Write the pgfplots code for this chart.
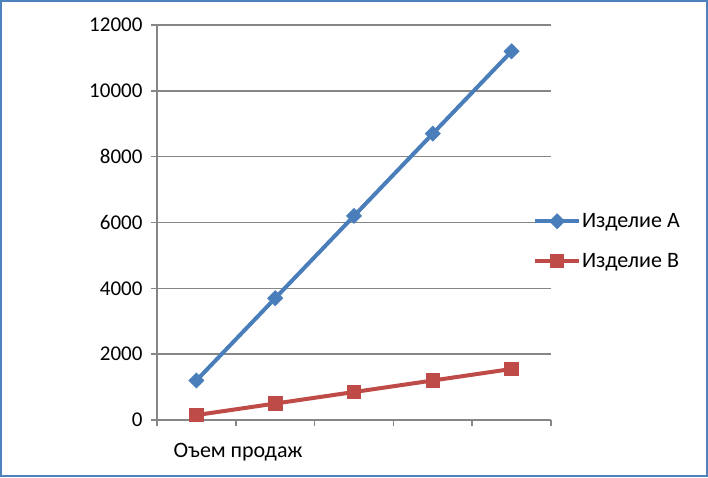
\documentclass[border=0pt]{standalone}
\usepackage{fontspec}
\setmainfont{Carlito}
\usepackage{pgfplots}
\pgfplotsset{compat=1.18}

\definecolor{seriesA}{HTML}{4A7EBB}
\definecolor{seriesB}{HTML}{BE4B48}
\definecolor{gridgray}{HTML}{868686}
\definecolor{framecol}{HTML}{4F81BD}

\begin{document}
\begin{tikzpicture}
\useasboundingbox (0,0) rectangle (708pt,477pt);
\begin{axis}[
    at={(157pt,57pt)}, anchor=south west,
    scale only axis,
    width=394pt, height=395pt,
    clip=false,
    xmin=-0.5, xmax=4.5,
    ymin=0, ymax=12000,
    xtick={-0.5,0.5,1.5,2.5,3.5,4.5},
    xticklabels={},
    ytick={0,2000,4000,6000,8000,10000,12000},
    yticklabel={\fontsize{21}{25}\selectfont\pgfmathprintnumber[assume math mode=true,1000 sep={}]{\tick}},
    axis x line*=bottom,
    axis y line*=left,
    axis line style={gridgray, line width=1.5pt},
    tick style={gridgray, line width=1.5pt},
    tick align=outside,
    major tick length=6pt,
    ymajorgrids=true,
    grid style={gridgray, line width=1.5pt},
    scaled y ticks=false,
    yticklabel style={xshift=-5pt},
    legend style={
        at={(0.954,0.453)}, anchor=west,
        draw=none, fill=none, inner sep=0pt,
        row sep=20pt,
        font=\fontsize{22}{26}\selectfont,
        nodes={inner xsep=1pt},
    },
    legend cell align=left,
    legend image code/.code={
        \draw[mark repeat=2, mark phase=2] plot coordinates {(0pt,0pt) (22pt,0pt) (44pt,0pt)};
    },
]
\addplot[color=seriesA, line width=4pt, mark=square*,
    mark size=5.2pt, mark options={rotate=45, solid, line width=1pt}]
    coordinates {(0,1200)(1,3700)(2,6200)(3,8700)(4,11200)};
\addlegendentry{Изделие А}

\addplot[color=seriesB, line width=4pt, mark=square*,
    mark size=6.8pt, mark options={solid, line width=1pt}]
    coordinates {(0,150)(1,500)(2,850)(3,1200)(4,1550)};
\addlegendentry{Изделие В}

\node[anchor=base, font=\fontsize{22}{26}\selectfont] at (axis cs:0.53,0) [yshift=-37pt] {Оъем продаж};
\end{axis}
\draw[framecol, line width=2pt] (1pt,1pt) rectangle (707pt,476pt);
\end{tikzpicture}
\end{document}
